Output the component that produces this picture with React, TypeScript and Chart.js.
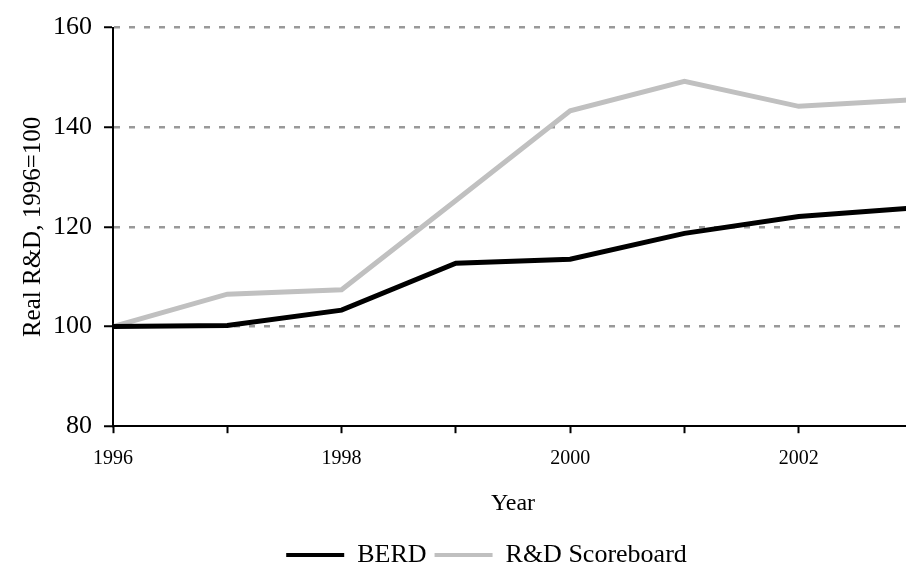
import React, { useEffect, useRef } from 'react';
import { Chart, registerables } from 'chart.js';

Chart.register(...registerables);

const FONT = '"Liberation Serif", "DejaVu Serif", serif';

const years = [1996, 1997, 1998, 1999, 2000, 2001, 2002, 2003];
const berd = [100, 100.2, 103.3, 112.7, 113.5, 118.7, 122.1, 123.8];
const scoreboard = [100, 106.5, 107.4, 125.3, 143.3, 149.2, 144.2, 145.5];
const xTickLabels = ['1996', '1998', '2000', '2002'];
const yTickValues = [80, 100, 120, 140, 160];
const seriesNames = ['BERD', 'R&D Scoreboard'];
const seriesColors = ['#000000', '#c0c0c0'];

const legendShift = {
  id: 'legendShift',
  afterLayout(chart: any) {
    const lg = chart.legend;
    if (lg) {
      lg.left += 23;
      lg.right += 23;
    }
  },
};

export default function App() {
  const canvasRef = useRef<HTMLCanvasElement | null>(null);

  useEffect(() => {
    document.body.style.margin = '0';
    const canvas = canvasRef.current;
    if (!canvas) return;
    const seriesValues = [berd, scoreboard];
    const chart = new Chart(canvas, {
      type: 'line',
      data: {
        datasets: seriesNames.map((name, i) => ({
          label: name,
          data: years.map((yr, j) => ({ x: yr, y: seriesValues[i][j] })),
          borderColor: seriesColors[i],
          backgroundColor: seriesColors[i],
          borderWidth: 5,
          pointRadius: 0,
          pointHoverRadius: 0,
          tension: 0,
          fill: false,
        })),
      },
      plugins: [legendShift],
      options: {
        animation: false,
        responsive: true,
        maintainAspectRatio: false,
        layout: { padding: { left: 14, right: 60, top: 6, bottom: -12 } },
        plugins: {
          tooltip: { enabled: false },
          legend: {
            position: 'bottom',
            labels: {
              color: '#000',
              font: { family: FONT, size: 26 },
              boxWidth: 58,
              boxHeight: 4,
              padding: 8,
              generateLabels: (c: any) => {
                const base = (Chart.defaults.plugins.legend.labels as any).generateLabels(c);
                return base.map((l: any) => ({ ...l, lineWidth: 0 }));
              },
            },
          },
        },
        scales: {
          x: {
            type: 'linear',
            min: years[0],
            max: years[years.length - 1],
            ticks: {
              stepSize: 1,
              autoSkip: false,
              maxRotation: 0,
              color: '#000',
              padding: 14,
              font: { family: FONT, size: 20 },
              callback: (v: any) => (xTickLabels.includes(String(v)) ? String(v) : ''),
            },
            grid: {
              drawOnChartArea: false,
              drawTicks: true,
              tickLength: 7,
              tickColor: '#000',
              tickWidth: 2,
            },
            border: { display: true, color: '#000', width: 2 },
            title: {
              display: true,
              text: 'Year',
              color: '#000',
              font: { family: FONT, size: 24 },
              padding: { top: 4, bottom: 16 },
            },
          },
          y: {
            min: yTickValues[0],
            max: yTickValues[yTickValues.length - 1],
            afterBuildTicks: (scale: any) => {
              scale.ticks = yTickValues.map((v) => ({ value: v }));
            },
            ticks: {
              color: '#000',
              padding: 12,
              font: { family: FONT, size: 26 },
              callback: (v: any) => String(v),
            },
            grid: {
              color: (ctx: any) => (ctx.tick && ctx.tick.value === yTickValues[0] ? 'rgba(0,0,0,0)' : '#999999'),
              lineWidth: 2.5,
              tickLength: 9,
              tickColor: '#000',
              tickWidth: 2,
            },
            border: { display: true, color: '#000', width: 2, dash: [6, 9] },
            title: {
              display: true,
              text: 'Real R&D, 1996=100',
              color: '#000',
              font: { family: FONT, size: 25 },
              padding: { top: 4, bottom: -7 },
            },
          },
        },
      } as any,
    });
    return () => chart.destroy();
  }, []);

  return (
    <div style={{ position: 'absolute', left: 0, top: 0, width: 906, height: 566, overflow: 'hidden', background: '#fff' }}>
      <div style={{ position: 'relative', width: 973, height: 566 }}>
        <canvas ref={canvasRef} />
      </div>
    </div>
  );
}
